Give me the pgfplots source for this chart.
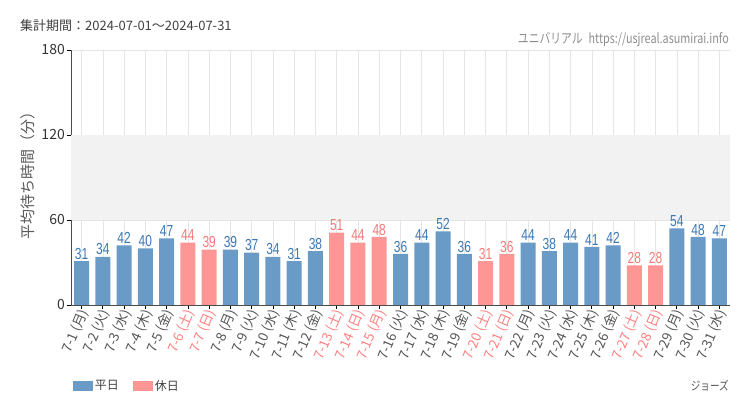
\documentclass[border=0pt]{standalone}
\usepackage{pgfplots}
\pgfplotsset{compat=1.18}
\usepackage{fontspec}
\setmainfont{Noto Sans CJK JP}
\newfontfamily\condfont[FakeStretch=0.75]{Liberation Sans}
\newfontfamily\condcjk[FakeStretch=0.8]{Noto Sans CJK JP}
\definecolor{wk}{HTML}{6A9AC6}
\definecolor{hol}{HTML}{FF9696}
\definecolor{wklab}{HTML}{3D78B4}
\definecolor{hollab}{HTML}{F47A7A}
\definecolor{holtick}{HTML}{FF8080}
\definecolor{tickc}{HTML}{555555}
\begin{document}
\begin{tikzpicture}
\path (0pt,0pt) rectangle (750pt,410pt);
\begin{axis}[
  set layers,
  at={(71pt,105pt)}, anchor=south west,
  width=659pt, height=255pt, scale only axis,
  xmin=-0.5, xmax=30.5, ymin=0, ymax=180,
  ytick={0,60,120,180},
  xtick={0,...,30},
  xticklabels={7-1 (月),7-2 (火),7-3 (水),7-4 (木),7-5 (金),\textcolor{holtick}{7-6 (土)},\textcolor{holtick}{7-7 (日)},7-8 (月),7-9 (火),7-10 (水),7-11 (木),7-12 (金),\textcolor{holtick}{7-13 (土)},\textcolor{holtick}{7-14 (日)},\textcolor{holtick}{7-15 (月)},7-16 (火),7-17 (水),7-18 (木),7-19 (金),\textcolor{holtick}{7-20 (土)},\textcolor{holtick}{7-21 (日)},7-22 (月),7-23 (火),7-24 (水),7-25 (木),7-26 (金),\textcolor{holtick}{7-27 (土)},\textcolor{holtick}{7-28 (日)},7-29 (月),7-30 (火),7-31 (水)},
  xticklabel style={rotate=67, anchor=east, font=\fontsize{13.5}{13.5}\selectfont, text=tickc, inner sep=1pt, xshift=1pt, yshift=-3pt},
  yticklabel style={font=\fontsize{14}{14}\selectfont, text=black!80, inner sep=2pt},
  /pgf/number format/assume math mode=true,
  axis x line*=bottom, axis y line*=left,
  axis line style={black!70, line width=0.8pt},
  tick align=outside,
  major tick length=4pt,
  tick style={black, line width=0.8pt},
  xmajorgrids, ymajorgrids,
  grid style={black!10, line width=0.6pt},
  ybar, bar width=15pt, bar shift=0pt,
  nodes near coords,
  nodes near coords style={font=\condfont\fontsize{16}{16}\selectfont, inner sep=1.5pt},
  legend columns=2,
  legend style={at={(-0.002,-0.318)}, anchor=west, draw=none, fill=none,
    font=\fontsize{12}{12}\selectfont, text=black!75,
    /tikz/every even column/.append style={column sep=12pt}},
  legend image code/.code={\fill[#1] (0pt,-5pt) rectangle (20pt,5pt);},
]
\fill[black!5, on layer=axis background] (axis cs:-0.5,60) rectangle (axis cs:30.5,120);
\addplot[fill=wk, draw=none, nodes near coords style={text=wklab}] coordinates {
(0,31) (1,34) (2,42) (3,40) (4,47) (7,39) (8,37) (9,34) (10,31) (11,38)
(15,36) (16,44) (17,52) (18,36) (21,44) (22,38) (23,44) (24,41) (25,42)
(28,54) (29,48) (30,47)};
\addlegendentry{平日}
\addplot[fill=hol, draw=none, nodes near coords style={text=hollab}] coordinates {
(5,44) (6,39) (12,51) (13,44) (14,48) (19,31) (20,36) (26,28) (27,28)};
\addlegendentry{休日}
\end{axis}
\node[anchor=west, text=black!75, font=\fontsize{13}{13}\selectfont, inner sep=0pt] at (20pt,384pt) {集計期間：2024-07-01～2024-07-31};
\node[anchor=east, text=black!45, font=\condcjk\fontsize{13.5}{13.5}\selectfont, inner sep=0pt] at (729pt,370pt) {ユニバリアル\hspace{6pt}https://usjreal.asumirai.info};
\node[rotate=90, text=black!65, font=\fontsize{15}{15}\selectfont, inner sep=0pt] at (28pt,238pt) {平均待ち時間（分）};
\node[anchor=east, text=black!65, font=\condcjk\fontsize{12}{12}\selectfont, inner sep=0pt] at (729pt,24pt) {ジョーズ};
\end{tikzpicture}
\end{document}
